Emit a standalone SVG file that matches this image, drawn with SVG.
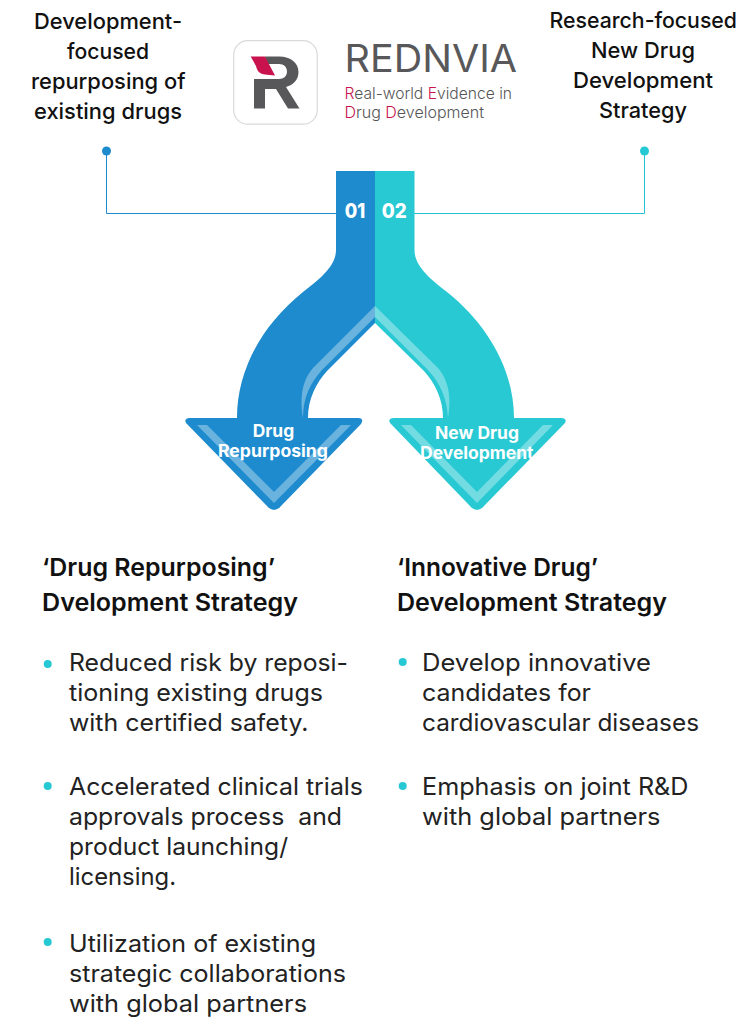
<svg xmlns="http://www.w3.org/2000/svg" width="751" height="1036" viewBox="0 0 751 1036">
<style>
text{font-family:"Inter","Liberation Sans",sans-serif;fill:#111}
.top{font-size:22px;font-weight:500}
.h{font-size:24.5px;font-weight:600}
.b{font-size:24px;font-weight:400;fill:#222}
.w{fill:#fff;font-weight:700}
.lab{font-size:17px}
.num{font-size:20.500px;font-weight:800}
.tag{font-size:15.500px;font-weight:300;fill:#555}
.p{fill:#c8134f}
.dot{fill:#26c9d3}
.blue{fill:#1d8bce}.teal{fill:#28c9d3}
.hl{fill:#fff;fill-opacity:.35}
.ln{fill:none;stroke-width:1}
</style>
<g id="connectors">
<path class="ln" stroke="#2088cc" d="M106.500 151V213.500H336"/>
<circle cx="106.500" cy="151" r="4.500" fill="#1d8bce"/>
<path class="ln" stroke="#26c4d2" d="M414 213.500H644.500V151"/>
<circle cx="644.500" cy="151" r="4.500" fill="#26c9d3"/>
</g>
<g id="logo">
<rect x="233.700" y="40.700" width="83.500" height="83.500" rx="14" fill="#fff" stroke="#d9d9d9" stroke-width="1.200"/>
<path fill="#58585a" d="M265 56.500H279C291 56.500 298.500 63 298.500 72C298.500 80 293 85 286 87L299.500 108.500H288L276 89H265V108.500H254V79H279C284 79 287 76 287 71.500C287 67 284 64 279 64H267.500Z"/>
<path class="p" d="M250.700 56.500H265L275 75.500C267 75 262 74.500 259.500 72.500C257.500 71 256.500 68 256 66Z"/>
<text x="344.500" y="71.500" font-size="38" style="fill:#58585a;font-weight:400" textLength="172.500" lengthAdjust="spacingAndGlyphs">REDNVIA</text>
<text class="tag" x="344.500" y="99" textLength="167.500" lengthAdjust="spacingAndGlyphs"><tspan class="p">R</tspan>eal-world <tspan class="p">E</tspan>vidence in</text>
<text class="tag" x="344.500" y="118" textLength="139.500" lengthAdjust="spacingAndGlyphs"><tspan class="p">D</tspan>rug <tspan class="p">D</tspan>evelopment</text>
</g>
<g id="top-left">
<text class="top" x="34" y="29" textLength="148" lengthAdjust="spacingAndGlyphs">Development-</text>
<text class="top" x="67" y="59" textLength="82" lengthAdjust="spacingAndGlyphs">focused</text>
<text class="top" x="31" y="89" textLength="154.500" lengthAdjust="spacingAndGlyphs">repurposing of</text>
<text class="top" x="34" y="119" textLength="148" lengthAdjust="spacingAndGlyphs">existing drugs</text>
</g>
<g id="top-right">
<text class="top" x="549.500" y="28" textLength="187.500" lengthAdjust="spacingAndGlyphs">Research-focused</text>
<text class="top" x="591" y="58" textLength="104" lengthAdjust="spacingAndGlyphs">New Drug</text>
<text class="top" x="573" y="88" textLength="140" lengthAdjust="spacingAndGlyphs">Development</text>
<text class="top" x="599" y="118" textLength="88" lengthAdjust="spacingAndGlyphs">Strategy</text>
</g>
<g id="arrow-left">
<path class="blue" d="M336 171H375V323L327 371C316 383 308 399 308 418H358C363 418 363 421 361 424L281 506C277 511 271 511 267 506L187 424C184 421 185 418 190 418H237C237 370 262 325 303 292C320 279 336 266 336 250Z"/>
<path class="hl" d="M375 306V317L322 370C310 383 303 398 303 418C300 400 301 382 313 368Z"/>
<path class="hl" d="M197 425H207L274 492L341 425H351L274 503Z"/>
<text class="w lab" x="252.700" y="436.500" textLength="41.500" lengthAdjust="spacingAndGlyphs">Drug</text>
<text class="w lab" x="218" y="456.500" textLength="110" lengthAdjust="spacingAndGlyphs">Repurposing</text>
<text class="w num" x="344.700" y="218" textLength="20.500" lengthAdjust="spacingAndGlyphs">01</text>
</g>
<g id="arrow-right">
<path class="teal" d="M375 171H414.500V250C414.500 266 430 279 447 292C488 325 514 370 514 418H561C566 418 567 421 564 424L484 506C480 511 474 511 470 506L391 424C388 421 389 418 394 418H443C443 399 435 383 424 371L375 323Z"/>
<path class="hl" d="M375 306V317L428 370C440 383 447 398 448 418C451 400 450 382 438 368Z"/>
<path class="hl" d="M401 425H411L477 492L543 425H553L477 503Z"/>
<text class="w lab" x="435" y="438.500" textLength="84" lengthAdjust="spacingAndGlyphs">New Drug</text>
<text class="w lab" x="420" y="458.500" textLength="113.500" lengthAdjust="spacingAndGlyphs">Development</text>
<text class="w num" x="381.700" y="218" textLength="25" lengthAdjust="spacingAndGlyphs">02</text>
</g>
<g id="strategy-left">
<text class="h" x="42" y="576" textLength="233" lengthAdjust="spacingAndGlyphs">‘Drug Repurposing’</text>
<text class="h" x="42" y="611" textLength="256" lengthAdjust="spacingAndGlyphs">Dvelopment Strategy</text>
<circle class="dot" cx="47.700" cy="664" r="4"/>
<text class="b" x="69" y="671" textLength="279" lengthAdjust="spacingAndGlyphs">Reduced risk by reposi-</text>
<text class="b" x="69" y="701" textLength="254" lengthAdjust="spacingAndGlyphs">tioning existing drugs</text>
<text class="b" x="69" y="731" textLength="239.500" lengthAdjust="spacingAndGlyphs">with certified safety.</text>
<circle class="dot" cx="47.700" cy="786" r="4"/>
<text class="b" x="69" y="795" textLength="294" lengthAdjust="spacingAndGlyphs">Accelerated clinical trials</text>
<text class="b" x="69" y="825" xml:space="preserve" textLength="273" lengthAdjust="spacingAndGlyphs">approvals process  and</text>
<text class="b" x="69" y="855" textLength="219" lengthAdjust="spacingAndGlyphs">product launching/</text>
<text class="b" x="69" y="885" textLength="107" lengthAdjust="spacingAndGlyphs">licensing.</text>
<circle class="dot" cx="47.700" cy="942" r="4"/>
<text class="b" x="69" y="952" textLength="247" lengthAdjust="spacingAndGlyphs">Utilization of existing</text>
<text class="b" x="69" y="982" textLength="277" lengthAdjust="spacingAndGlyphs">strategic collaborations</text>
<text class="b" x="69" y="1012" textLength="238" lengthAdjust="spacingAndGlyphs">with global partners</text>
</g>
<g id="strategy-right">
<text class="h" x="397" y="576" textLength="201" lengthAdjust="spacingAndGlyphs">‘Innovative Drug’</text>
<text class="h" x="397" y="610.500" textLength="270" lengthAdjust="spacingAndGlyphs">Development Strategy</text>
<circle class="dot" cx="402.700" cy="662" r="4"/>
<text class="b" x="422" y="671" textLength="229" lengthAdjust="spacingAndGlyphs">Develop innovative</text>
<text class="b" x="422" y="701" textLength="169" lengthAdjust="spacingAndGlyphs">candidates for</text>
<text class="b" x="422" y="731" textLength="277" lengthAdjust="spacingAndGlyphs">cardiovascular diseases</text>
<circle class="dot" cx="402.700" cy="786" r="4"/>
<text class="b" x="422" y="795" textLength="266.500" lengthAdjust="spacingAndGlyphs">Emphasis on joint R&amp;D</text>
<text class="b" x="422" y="825" textLength="238.500" lengthAdjust="spacingAndGlyphs">with global partners</text>
</g>
</svg>
